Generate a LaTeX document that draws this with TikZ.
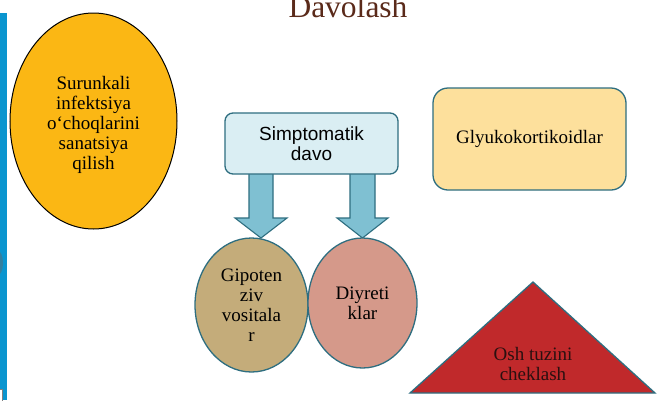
\documentclass[tikz,border=0pt]{standalone}
\usepackage{fontspec}
\setmainfont{Liberation Serif}
\newfontfamily\arialfont{Liberation Sans}
\usetikzlibrary{shapes.geometric}

\definecolor{edgeteal}{HTML}{2E6E80}
\definecolor{sidebarblue}{HTML}{0A95CF}
\definecolor{amberfill}{HTML}{FBB714}
\definecolor{tanfill}{HTML}{C4AC7A}
\definecolor{salmonfill}{HTML}{D5998A}
\definecolor{creamfill}{HTML}{FDE09C}
\definecolor{paleblue}{HTML}{DAEEF3}
\definecolor{arrowblue}{HTML}{7FC0D2}
\definecolor{redfill}{HTML}{C0292B}
\definecolor{titlebrown}{HTML}{5A2A1A}
\definecolor{darktext}{HTML}{2A1010}

\tikzset{
  bodytext/.style={font=\fontsize{19}{20}\selectfont, align=center, text=black},
  oval/.style={ellipse, draw=edgeteal, line width=1.3pt, inner sep=0pt, bodytext},
  roundbox/.style={rectangle, draw=edgeteal, line width=1.3pt, bodytext},
  blockarrow/.style={fill=arrowblue, draw=edgeteal, line width=1.1pt, line join=miter},
}

\begin{document}
\begin{tikzpicture}[x=1pt, y=-1pt]
  \useasboundingbox (0,0) rectangle (665,400);
  \fill[white] (0,0) rectangle (665,400);

  % side bar on the left edge
  \fill[sidebarblue] (0,13) rectangle (7,400);
  \fill[black!60, opacity=0.45] (-2,263) ellipse [x radius=5, y radius=12];
  \draw[gray, fill=white, line width=0.4pt] (-1,389) rectangle (2.5,401);

  % title
  \node[anchor=base, text=titlebrown, font=\fontsize{31.5}{34}\selectfont, inner sep=0pt]
    (title) at (348,17) {Davolash};

  % focal infection
  \node[oval, draw=black, line width=1pt, fill=amberfill,
        minimum width=167, minimum height=216] (focus) at (93.5,121) {};
  \node[bodytext, inner sep=0pt] (focustext) at (93.5,125)
    {Surunkali\\infektsiya\\o\symbol{96}choqlarini\\sanatsiya\\qilish};

  % block arrows under the symptomatic box
  \draw[blockarrow] (249,172) -- (273,172) -- (273,218) -- (287,218)
    -- (261,238) -- (235,218) -- (249,218) -- cycle;
  \draw[blockarrow] (350,172) -- (375,172) -- (375,218) -- (388,218)
    -- (362.5,238) -- (337,218) -- (350,218) -- cycle;

  % symptomatic treatment
  \node[roundbox, rounded corners=8pt, fill=paleblue,
        minimum width=173, minimum height=61,
        font=\arialfont\fontsize{19}{20}\selectfont] (sympt) at (311.5,143.5)
    {Simptomatik\\davo};

  % the two branches
  \node[oval, fill=tanfill, minimum width=113, minimum height=134] (hypo) at (251.5,305)
    {Gipoten\\ziv\\vositala\\r};
  \node[oval, fill=salmonfill, minimum width=109, minimum height=130] (diur) at (362.5,303)
    {Diyreti\\klar};

  % corticosteroids
  \node[roundbox, rounded corners=15pt, fill=creamfill,
        minimum width=193, minimum height=102] (gluco) at (529.5,139)
    {Glyukokortikoidlar};

  % salt restriction triangle
  \draw[fill=redfill, draw=edgeteal, line width=1.3pt, line join=miter]
    (533,282) -- (655,393) -- (410,393) -- cycle;
  \node[bodytext, text=darktext, inner sep=0pt] (salt) at (533,364)
    {Osh tuzini\\cheklash};
\end{tikzpicture}
\end{document}
